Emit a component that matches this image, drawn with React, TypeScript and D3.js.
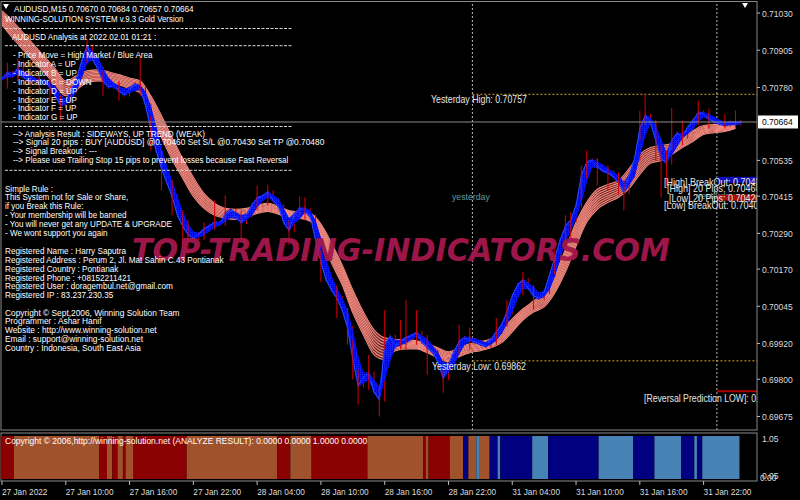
import React from "react";
import * as d3 from "d3";

// ---- price data -------------------------------------------------------
// closing prices, one value every two M15 bars (30 min), starting 27 Jan 04:00
const closes = [
  0.70809, 0.70829, 0.70819, 0.70843, 0.70816, 0.70802, 0.70809, 0.70796, 0.70802, 0.70782,
  0.70752, 0.70719, 0.70735, 0.70769, 0.70809, 0.70869, 0.70919, 0.70876, 0.70843, 0.70802,
  0.70782, 0.70789, 0.70769, 0.70756, 0.70776, 0.70789, 0.70776, 0.70719, 0.70642, 0.70568,
  0.70508, 0.70461, 0.70414, 0.70351, 0.70314, 0.70287, 0.70274, 0.70287, 0.70304, 0.70314,
  0.70327, 0.70321, 0.70354, 0.70367, 0.70344, 0.70327, 0.70351, 0.70384, 0.70408, 0.70414,
  0.70428, 0.70401, 0.70381, 0.70327, 0.70301, 0.70354, 0.70374, 0.70367, 0.70347, 0.70267,
  0.70193, 0.70133, 0.701, 0.70073, 0.70033, 0.69973, 0.69866, 0.69779, 0.69805, 0.69819,
  0.69758, 0.69732, 0.69916, 0.69943, 0.69912, 0.69926, 0.69939, 0.69946, 0.69956, 0.69926,
  0.69909, 0.69892, 0.69859, 0.69805, 0.69849, 0.69892, 0.69926, 0.69939, 0.69932, 0.69926,
  0.69919, 0.69912, 0.69932, 0.69959, 0.69983, 0.70026, 0.7008, 0.70116, 0.70133, 0.70106,
  0.7008, 0.70073, 0.70093, 0.7015, 0.70207, 0.70267, 0.70314, 0.70334, 0.70384, 0.70485,
  0.70528, 0.70535, 0.70515, 0.70501, 0.70495, 0.70481, 0.70461, 0.70428, 0.70485, 0.70541,
  0.70642, 0.70685, 0.70662, 0.70602, 0.70541, 0.70528, 0.70602, 0.70625, 0.70615, 0.70645,
  0.70669, 0.70695, 0.70689, 0.70675, 0.70665, 0.70659, 0.70655, 0.70662, 0.70659, 0.70664,
];

// bar extremes that stand out of the band: [sample index, high, low]
const barExtremes: [number, number, number][] = [
  [1, 0.70863, 0.70776], [3, 0.70876, 0.70802], [7, 0.70836, 0.70762], [9, 0.70809, 0.70735],
  [11, 0.70752, 0.70669], [13, 0.70786, 0.70735], [16, 0.70943, 0.70863], [19, 0.70836, 0.70752],
  [22, 0.70802, 0.70735], [26, 0.70879, 0.70752], [28, 0.70685, 0.70568], [30, 0.70568, 0.70434],
  [32, 0.70468, 0.70351], [34, 0.70367, 0.7025], [35, 0.70334, 0.70217], [38, 0.70327, 0.70267],
  [40, 0.70401, 0.70301], [42, 0.70418, 0.70327], [45, 0.70367, 0.70267], [48, 0.70451, 0.70367],
  [50, 0.70454, 0.70384], [54, 0.70334, 0.7025], [56, 0.70414, 0.70351], [57, 0.70411, 0.70334],
  [60, 0.70234, 0.70127], [63, 0.70116, 0.70006], [65, 0.70033, 0.69916], [66, 0.69932, 0.69799],
  [67, 0.69832, 0.69715], [69, 0.69882, 0.69765], [71, 0.69782, 0.69675], [72, 0.70033, 0.69899],
  [75, 0.69999, 0.69899], [76, 0.70066, 0.69899], [78, 0.70033, 0.69916], [80, 0.69949, 0.69815],
  [83, 0.69832, 0.69755], [86, 0.69983, 0.69882], [88, 0.69973, 0.69899], [93, 0.70006, 0.69916],
  [95, 0.70066, 0.69983], [98, 0.7016, 0.70083], [100, 0.70116, 0.70033], [104, 0.7025, 0.7015],
  [106, 0.70351, 0.7025], [107, 0.70361, 0.70267], [109, 0.70518, 0.70401], [110, 0.70568, 0.70475],
  [112, 0.70541, 0.70451], [114, 0.70518, 0.70434], [116, 0.70495, 0.70418], [117, 0.70468, 0.70367],
  [120, 0.70702, 0.70602], [121, 0.70759, 0.70652], [123, 0.70669, 0.70535], [124, 0.70585, 0.70411],
  [125, 0.70568, 0.70451], [126, 0.70712, 0.70568], [128, 0.70669, 0.70585], [131, 0.70735, 0.70652],
  [133, 0.70709, 0.70642], [136, 0.70692, 0.70642], [138, 0.70702, 0.70645],
];

// slow moving-average ribbon, hourly envelope (upper / lower edge)
const ribbonHigh = [
  0.71037, 0.71003, 0.70963, 0.70923, 0.70883, 0.70843, 0.70802, 0.70819, 0.70836, 0.70839,
  0.70833, 0.70823, 0.70812, 0.70802, 0.70752, 0.70685, 0.70612, 0.70541, 0.70478, 0.70424,
  0.70391, 0.70374, 0.70371, 0.70374, 0.70384, 0.70391, 0.70381, 0.70367, 0.70361, 0.70357,
  0.70321, 0.70257, 0.70184, 0.701, 0.70026, 0.69966, 0.69939, 0.69933, 0.69933, 0.69929,
  0.69919, 0.69906, 0.69892, 0.69906, 0.69919, 0.69926, 0.69936, 0.69966, 0.70003, 0.70036,
  0.70063, 0.7009, 0.7015, 0.70237, 0.70327, 0.70394, 0.70438, 0.70454, 0.70468, 0.70508,
  0.70555, 0.70578, 0.70585, 0.70592, 0.70615, 0.70635, 0.70652, 0.70655, 0.70655, 0.70662,
];
const ribbonLow = [
  0.7099, 0.70946, 0.70906, 0.70866, 0.70829, 0.70789, 0.70752, 0.70772, 0.70796, 0.70802,
  0.70799, 0.70789, 0.70776, 0.70762, 0.70689, 0.70612, 0.70538, 0.70475, 0.70414, 0.70374,
  0.70351, 0.70341, 0.70337, 0.70344, 0.70357, 0.70364, 0.70354, 0.70344, 0.70341, 0.70331,
  0.70277, 0.7019, 0.70117, 0.70023, 0.69949, 0.69882, 0.69866, 0.69896, 0.69902, 0.69902,
  0.69889, 0.69872, 0.69859, 0.69876, 0.69889, 0.69896, 0.69906, 0.69923, 0.69959, 0.69999,
  0.70026, 0.70043, 0.7009, 0.7016, 0.70247, 0.70327, 0.70371, 0.70394, 0.70411, 0.70441,
  0.70488, 0.70525, 0.70535, 0.70555, 0.70578, 0.70598, 0.70622, 0.70628, 0.70632, 0.70642,
];

// analyzer histogram: state runs, in M15 bars
const signalStates = [
  "DR", "SI", "DR", "SI", "DR", "SI", "DR", "SI", "DR", "SI", "DR", "SI", "DR", "SI", "DR", "SI", "DR",
  "SI", "NV", "SI", "SB", "SI", "NV", "SB", "NV", "SB", "NV", "SB", "NV", "SB", "NV", "SB", "NV", "SB",
];
const signalLengths = [
  5, 32, 3, 2, 2, 2, 1, 3, 20, 34, 5, 8, 21, 21, 1, 1, 8,
  5, 2, 3, 1, 4, 3, 1, 12, 6, 19, 13, 8, 10, 5, 1, 2, 14,
];
const signalColors: Record<string, string> = { DR: "#8b0000", SI: "#a0522d", NV: "#000080", SB: "#4682b4" };

// axes
const priceTicks = [0.7103, 0.70905, 0.7078, 0.70535, 0.70415, 0.7029, 0.7017, 0.70045, 0.6992, 0.698, 0.69675];
const timeTickHours = [0, 6, 12, 18, 24, 30, 36, 42, 48, 54, 60, 66];
const timeTickLabels = [
  "27 Jan 2022", "27 Jan 10:00", "27 Jan 16:00", "27 Jan 22:00", "28 Jan 04:00", "28 Jan 10:00",
  "28 Jan 16:00", "28 Jan 22:00", "31 Jan 04:00", "31 Jan 10:00", "31 Jan 16:00", "31 Jan 22:00",
];

// levels
const lastPrice = 0.70664;
const yesterdayHigh = 0.70757;
const yesterdayLow = 0.69862;
const highBreakOut = 0.7048;
const high20 = 0.7046;
const low20 = 0.7042;
const lowBreakOut = 0.704;
const reversalLow = 0.6976;
const daySeparators = [44.25, 67.25];

// info panel
const headerLine = "AUDUSD,M15  0.70670 0.70684 0.70657 0.70664";
const titleLine = "WINNING-SOLUTION SYSTEM v.9.3 Gold Version";
const analysisTitle = "AUDUSD Analysis at 2022.02.01 01:21 :";
const analysisLines = [
  "- Price Move = High Market / Blue Area",
  "- Indicator A = UP", "- Indicator B = UP", "- Indicator C = DOWN", "- Indicator D = UP",
  "- Indicator E = UP", "- Indicator F = UP", "- Indicator G = UP",
];
const resultLines = [
  "--> Analysis Result : SIDEWAYS, UP TREND (WEAK)",
  "--> Signal 20 pips : BUY [AUDUSD] @0.70460 Set S/L @0.70430 Set TP @0.70480",
  "--> Signal Breakout : ---",
  "--> Please use Trailing Stop 15 pips to prevent losses because Fast Reversal",
];
const ruleLines = [
  "Simple Rule :", "This System not for Sale or Share,", "if you Break this Rule:",
  "- Your membership will be banned", "- You will never get any UPDATE & UPGRADE", "- We wont support you again",
];
const registeredLines = [
  "Registered Name : Harry Saputra", "Registered Address : Perum 2, Jl. Mat Sahin C.43 Pontianak",
  "Registered Country : Pontianak", "Registered Phone : +08152211421",
  "Registered User : doragembul.net@gmail.com", "Registered IP :  83.237.230.35",
];
const creditLines = [
  "Copyright \u00a9 Sept,2006, Winning Solution Team", "Programmer : Ashar Hanif",
  "Website : http://www.winning-solution.net", "Email : support@winning-solution.net",
  "Country : Indonesia, South East Asia",
];
const subTitle = "Copyright \u00a9 2006,http://winning-solution.net (ANALYZE RESULT): 0.0000 0.0000 1.0000 0.0000";

const FONT = "'Liberation Sans', Arial, sans-serif";

function T({ x, y, s = 0.85, size = 9.5, fill = "#ffffff", children }: any) {
  return (
    <text transform={`translate(${x},${y}) scale(${s},1)`} fontSize={size} fill={fill} fontFamily={FONT}>
      {children}
    </text>
  );
}

export default function App() {
  const x = d3.scaleLinear().domain([0, 66]).range([2, 703.6]);
  const y = d3.scaleLinear().domain([0.69675, 0.7103]).range([416.5, 13]);
  const subY = d3.scaleLinear().domain([0, 1]).range([479, 436]);
  const sx = (k: number) => x(k / 2);
  const axisX = 757;
  const mainBottom = 430;

  // ribbon: envelope plus individual MA strands
  const ribbonArea = d3
    .area<number>()
    .x((_, h) => x(h))
    .y0((_, h) => y(ribbonLow[h]))
    .y1((_, h) => y(ribbonHigh[h]))
    .curve(d3.curveMonotoneX)(ribbonHigh);
  const strands = d3.range(9).map((i) => {
    const t = i / 8;
    return d3
      .line<number>()
      .x((_, h) => x(h))
      .y((_, h) => y(ribbonHigh[h] + (ribbonLow[h] - ribbonHigh[h]) * t))
      .curve(d3.curveMonotoneX)(ribbonHigh);
  });

  // fast averages forming the blue band
  const periods = [1, 2, 3];
  const smas = periods.map((p) =>
    closes.map((_, k) => d3.mean(closes.slice(Math.max(0, k - p + 1), k + 1)) as number)
  );
  const bandTop = closes.map((_, k) => y(d3.max(smas, (s) => s[k]) as number) - 1.6);
  const bandBot = closes.map((_, k) => y(d3.min(smas, (s) => s[k]) as number) + 1.6);
  const bandArea = d3
    .area<number>()
    .x((_, k) => sx(k))
    .y0((_, k) => bandBot[k])
    .y1((_, k) => bandTop[k])(closes);
  const smaPaths = smas.map((s) =>
    d3
      .line<number>()
      .x((_, k) => sx(k))
      .y((v) => y(v))(s)
  );

  // histogram runs
  const barW = x(0.25) - x(0);
  let acc = 0;
  const runs = signalStates.map((s, i) => {
    const r = { s, b0: acc, n: signalLengths[i] };
    acc += signalLengths[i];
    return r;
  });

  const sepX = daySeparators.map((h) => x(h));
  const lbl = "#e6e6e6";

  return (
    <svg width={800} height={500} style={{ position: "absolute", left: 0, top: 0, background: "#000" }}>
      <defs>
        <clipPath id="mainClip">
          <rect x={1} y={1} width={axisX - 1} height={mainBottom - 1} />
        </clipPath>
        <pattern id="blueMesh" width={2} height={2} patternUnits="userSpaceOnUse">
          <rect width={2} height={2} fill="#0a1cff" />
          <rect x={1} y={1} width={1} height={1} fill="#000070" />
        </pattern>
      </defs>
      <rect width={800} height={500} fill="#000" />

      <g clipPath="url(#mainClip)">
        {/* day separators */}
        {sepX.map((sx0, i) => (
          <line key={i} x1={sx0} x2={sx0} y1={0} y2={mainBottom} stroke="#b8b8b8" strokeDasharray="2,2" />
        ))}

        {/* previous day high / low */}
        <line x1={sepX[0]} x2={axisX} y1={y(yesterdayHigh)} y2={y(yesterdayHigh)} stroke="#daa520" strokeDasharray="2,2" />
        <line x1={sepX[0]} x2={axisX} y1={y(yesterdayLow)} y2={y(yesterdayLow)} stroke="#daa520" strokeDasharray="2,2" />

        {/* slow ribbon */}
        <path d={ribbonArea || ""} fill="#6a2622" />
        {strands.map((d, i) => (
          <path key={i} d={d || ""} fill="none" stroke="#f08a80" strokeWidth={1.1} />
        ))}

        {/* bar ranges */}
        {closes.map((c, k) =>
          k === 0 ? null : (
            <line
              key={k}
              x1={sx(k)}
              x2={sx(k)}
              y1={y(Math.max(c, closes[k - 1])) - 2}
              y2={y(Math.min(c, closes[k - 1])) + 2}
              stroke="#d00000"
            />
          )
        )}

        {/* fast band */}
        <path d={bandArea || ""} fill="url(#blueMesh)" opacity={0.92} />
        {smaPaths.map((d, i) => (
          <path key={i} d={d || ""} fill="none" stroke={i === 0 ? "#2a4cff" : "#0010ff"} strokeWidth={1} />
        ))}
        {barExtremes.map(([k, hi, lo]) => (
          <line key={k} x1={sx(k)} x2={sx(k)} y1={y(hi)} y2={y(lo)} stroke="#dc0000" strokeWidth={1.1} opacity={0.9} />
        ))}

        {/* current price */}
        <line x1={0} x2={axisX} y1={y(lastPrice)} y2={y(lastPrice)} stroke="#8c8c8c" />

        {/* watermark */}
        <text
          x={132}
          y={261}
          fontSize={32}
          fontWeight="bold"
          fontStyle="italic"
          fontFamily="'DejaVu Sans', sans-serif"
          textLength={538}
          lengthAdjust="spacingAndGlyphs"
          fill="#a5184d"
          opacity={0.95}
        >
          TOP-TRADING-INDICATORS.COM
        </text>

        {/* level labels */}
        <T x={452} y={200} s={0.92} fill="#5f9ea0">yesterday</T>
        <T x={697} y={199} s={0.92} fill="#5f9ea0">yesterday</T>
        <rect x={sepX[1]} y={y(highBreakOut)} width={axisX - sepX[1]} height={y(high20) - y(highBreakOut)} fill="#1010b4" />
        <rect x={sepX[1]} y={y(low20)} width={axisX - sepX[1]} height={y(lowBreakOut) - y(low20)} fill="#a81010" />
        <line x1={sepX[1]} x2={axisX} y1={y(reversalLow)} y2={y(reversalLow)} stroke="#b00000" strokeWidth={2} />
        <T x={431} y={103} size={10} s={0.88} fill={lbl}>{`Yesterday High: ${yesterdayHigh.toFixed(5)}`}</T>
        <T x={432} y={370} size={10} s={0.88} fill={lbl}>{`Yesterday Low: ${yesterdayLow.toFixed(5)}`}</T>
        <T x={664} y={186} size={10} s={0.9} fill={lbl}>{`[High] BreakOut: ${highBreakOut.toFixed(5)}`}</T>
        <T x={667} y={192} size={10} s={0.9} fill={lbl}>{`[High] 20 Pips: ${high20.toFixed(5)}`}</T>
        <T x={669} y={202} size={10} s={0.9} fill={lbl}>{`[Low] 20 Pips: ${low20.toFixed(5)}`}</T>
        <T x={664} y={209} size={10} s={0.9} fill={lbl}>{`[Low] BreakOut: ${lowBreakOut.toFixed(5)}`}</T>
        <T x={644} y={402} size={10} s={0.87} fill={lbl}>{`[Reversal Prediction LOW]: ${reversalLow.toFixed(5)}`}</T>

        {/* info panel */}
        <polygon points="3,4 9,4 6,9" fill="#ffffff" />
        <T x={14} y={12} s={0.86}>{headerLine}</T>
        <T x={5} y={22} s={0.83}>{titleLine}</T>
        {[28.5, 45.7, 126.5, 170.3].map((yy, i) => (
          <line key={i} x1={5} x2={292} y1={yy} y2={yy} stroke="#d8d8d8" strokeDasharray="3,1.5" />
        ))}
        <T x={12} y={40}>{analysisTitle}</T>
        {analysisLines.map((t, i) => (
          <T key={t} x={13} y={58 + i * 8.9}>{t}</T>
        ))}
        {resultLines.map((t, i) => (
          <T key={t} x={13} y={136.5 + i * 8.9} s={i === 1 ? 0.88 : 0.85}>{t}</T>
        ))}
        {ruleLines.map((t, i) => (
          <T key={t} x={5} y={191.5 + i * 8.9}>{t}</T>
        ))}
        {registeredLines.map((t, i) => (
          <T key={t} x={5} y={253.8 + i * 8.9} s={0.86}>{t}</T>
        ))}
        {creditLines.map((t, i) => (
          <T key={t} x={5} y={315.5 + i * 8.9} s={0.88}>{t}</T>
        ))}
      </g>

      {/* frames */}
      <rect x={1} y={1.5} width={axisX - 1} height={mainBottom - 1.5} fill="none" stroke="#8a8a8a" />
      <rect x={1} y={433} width={axisX - 1} height={48} fill="none" stroke="#8a8a8a" />
      <polygon points="742,3 748,3 745,8" fill="#ffffff" />

      {/* analyzer histogram */}
      {runs.map((r, i) => (
        <rect
          key={i}
          x={x(r.b0 / 4) - barW / 2}
          y={subY(1)}
          width={r.n * barW}
          height={subY(0) - subY(1)}
          fill={signalColors[r.s]}
        />
      ))}
      <T x={5} y={444} size={8.5} s={1.0}>{subTitle}</T>

      {/* price axis */}
      {priceTicks.map((p) => (
        <g key={p}>
          <line x1={axisX} x2={axisX + 3} y1={y(p)} y2={y(p)} stroke="#bdbdbd" />
          <T x={axisX + 5} y={y(p) + 3.5} s={0.9} fill="#dcdcdc">{p.toFixed(5)}</T>
        </g>
      ))}
      <rect x={axisX + 1} y={y(lastPrice) - 6.5} width={40} height={13} fill="#ffffff" />
      <T x={axisX + 5} y={y(lastPrice) + 3.5} s={0.9} fill="#000000">{lastPrice.toFixed(5)}</T>
      <T x={axisX + 5} y={442} s={0.9} fill="#dcdcdc">1.05</T>
      <T x={axisX + 3} y={481} s={0.9} fill="#dcdcdc">0.00</T>
      <T x={axisX + 5} y={479} s={0.9} fill="#dcdcdc">0.05</T>

      {/* time axis */}
      {timeTickHours.map((h, i) => (
        <g key={h}>
          <line x1={x(h)} x2={x(h)} y1={481} y2={485} stroke="#bdbdbd" />
          <T x={x(h)} y={495} s={0.87} fill="#dcdcdc">{timeTickLabels[i]}</T>
        </g>
      ))}
    </svg>
  );
}
